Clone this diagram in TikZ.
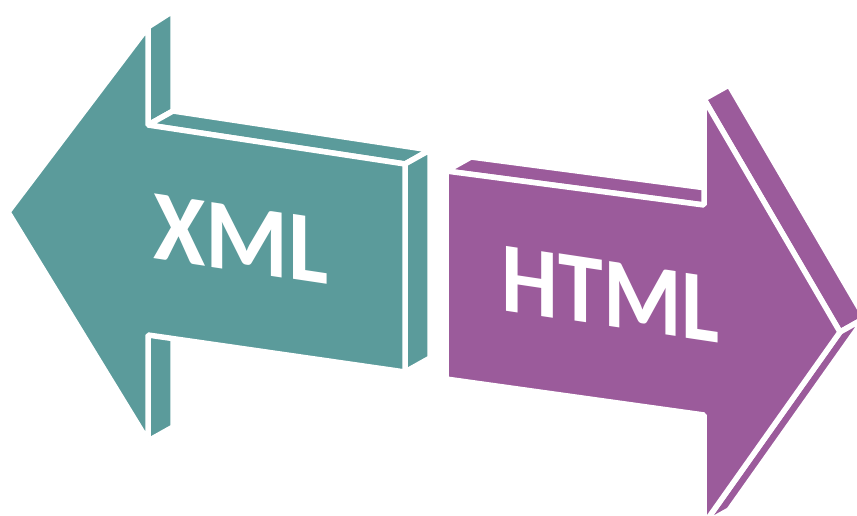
\documentclass[tikz,border=0pt]{standalone}
\usepackage{fontspec}
\newfontfamily\lblfont{Carlito}
\definecolor{tealA}{HTML}{5B9B9B}
\definecolor{plumA}{HTML}{9B5B9B}
\begin{document}
\begin{tikzpicture}[x=1pt,y=-1pt,
  face/.style={draw=white,line width=5.5pt,line join=bevel},
  lbl/.style={text=white,font=\lblfont\bfseries\fontsize{100}{100}\selectfont,inner sep=0pt,transform shape}]
\useasboundingbox (0,0) rectangle (857,516);
\clip (0,0) rectangle (857,516);
% ---- teal arrow (left) ----
\fill[face,fill=tealA] (148,27) -- (148,125) -- (173,111) -- (173,11) -- cycle;
\fill[face,fill=tealA] (148,335) -- (148,441) -- (173,427) -- (173,321) -- cycle;
\fill[face,fill=tealA] (148,125) -- (405,164) -- (430,150) -- (173,111) -- cycle;
\fill[face,fill=tealA] (405,164) -- (405,372) -- (430,358) -- (430,150) -- cycle;
\filldraw[face,fill=tealA] (8,212) -- (148,27) -- (148,125) -- (405,164) -- (405,372) -- (148,335) -- (148,441) -- cycle;
% ---- plum arrow (right) ----
\filldraw[face,fill=plumA] (446,171) -- (704,205) -- (729,191) -- (471,157) -- cycle;
\filldraw[face,fill=plumA] (704,99) -- (840,332) -- (865,318) -- (729,85) -- cycle;
\filldraw[face,fill=plumA] (840,332) -- (704,524) -- (729,510) -- (865,318) -- cycle;
\filldraw[face,fill=plumA] (446,171) -- (704,205) -- (704,99) -- (840,332) -- (704,524) -- (704,415) -- (446,379) -- cycle;
% ---- labels ----
\node[lbl,yslant=-0.15,xscale=0.95] (xml) at (241,239) {XML};
\node[lbl,yslant=-0.15,xscale=0.9] (html) at (611,294) {HTML};
\end{tikzpicture}
\end{document}
